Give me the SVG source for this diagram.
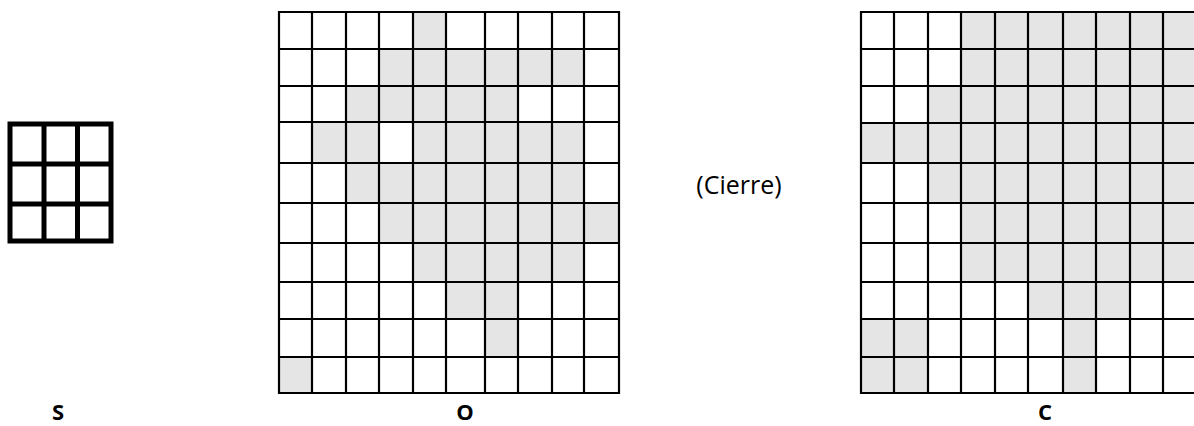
<svg xmlns="http://www.w3.org/2000/svg" width="1194" height="426" viewBox="0 0 1194 426">
<style>
.sh{fill:#e5e5e5}
.ln{fill:none;stroke:#000;stroke-width:2.2}
.sl{fill:none;stroke:#000;stroke-width:5}
.lab{font-family:"Open Sans","Liberation Sans",sans-serif;font-weight:bold;font-size:22px;text-anchor:middle;fill:#000}
.txt{font-family:"Open Sans","Liberation Sans",sans-serif;font-size:25px;text-anchor:middle;fill:#000}
</style>
<rect width="1194" height="426" fill="#fff"/>
<g id="S">
<path class="sl" d="M10,124H111V241H10Z M44,124V241 M77.5,124V241 M10,164H111 M10,204H111"/>
<text class="lab" x="58" y="420">S</text>
</g>
<g id="O">
<g class="sh">
<rect x="413" y="12" width="33" height="37"/>
<rect x="379" y="49" width="205" height="37"/>
<rect x="346" y="86" width="172" height="36"/>
<rect x="312" y="122" width="67" height="41"/>
<rect x="413" y="122" width="171" height="41"/>
<rect x="346" y="163" width="238" height="40"/>
<rect x="379" y="203" width="240" height="40"/>
<rect x="413" y="243" width="171" height="39"/>
<rect x="446" y="282" width="72" height="37"/>
<rect x="485" y="319" width="33" height="38"/>
<rect x="279" y="357" width="33" height="36"/>
</g>
<path class="ln" d="M279,12H619V393H279Z M312,12V393 M346,12V393 M379,12V393 M413,12V393 M446,12V393 M485,12V393 M518,12V393 M552,12V393 M584,12V393 M279,49H619 M279,86H619 M279,122H619 M279,163H619 M279,203H619 M279,243H619 M279,282H619 M279,319H619 M279,357H619"/>
<text class="lab" x="465" y="420">O</text>
</g>
<g id="cierre">
<text class="txt" x="739" y="194">(Cierre)</text>
</g>
<g id="C">
<g class="sh">
<rect x="961" y="12" width="240" height="74"/>
<rect x="928" y="86" width="273" height="37"/>
<rect x="861" y="123" width="340" height="40"/>
<rect x="928" y="163" width="273" height="40"/>
<rect x="961" y="203" width="240" height="79"/>
<rect x="1028" y="282" width="102" height="37"/>
<rect x="861" y="319" width="67" height="74"/>
<rect x="1063" y="319" width="33" height="74"/>
</g>
<path class="ln" d="M1200,12H861V393H1200 M894,12V393 M928,12V393 M961,12V393 M995,12V393 M1028,12V393 M1063,12V393 M1096,12V393 M1130,12V393 M1163,12V393 M861,49H1200 M861,86H1200 M861,123H1200 M861,163H1200 M861,203H1200 M861,243H1200 M861,282H1200 M861,319H1200 M861,357H1200"/>
<text class="lab" x="1045" y="420">C</text>
</g>
</svg>
